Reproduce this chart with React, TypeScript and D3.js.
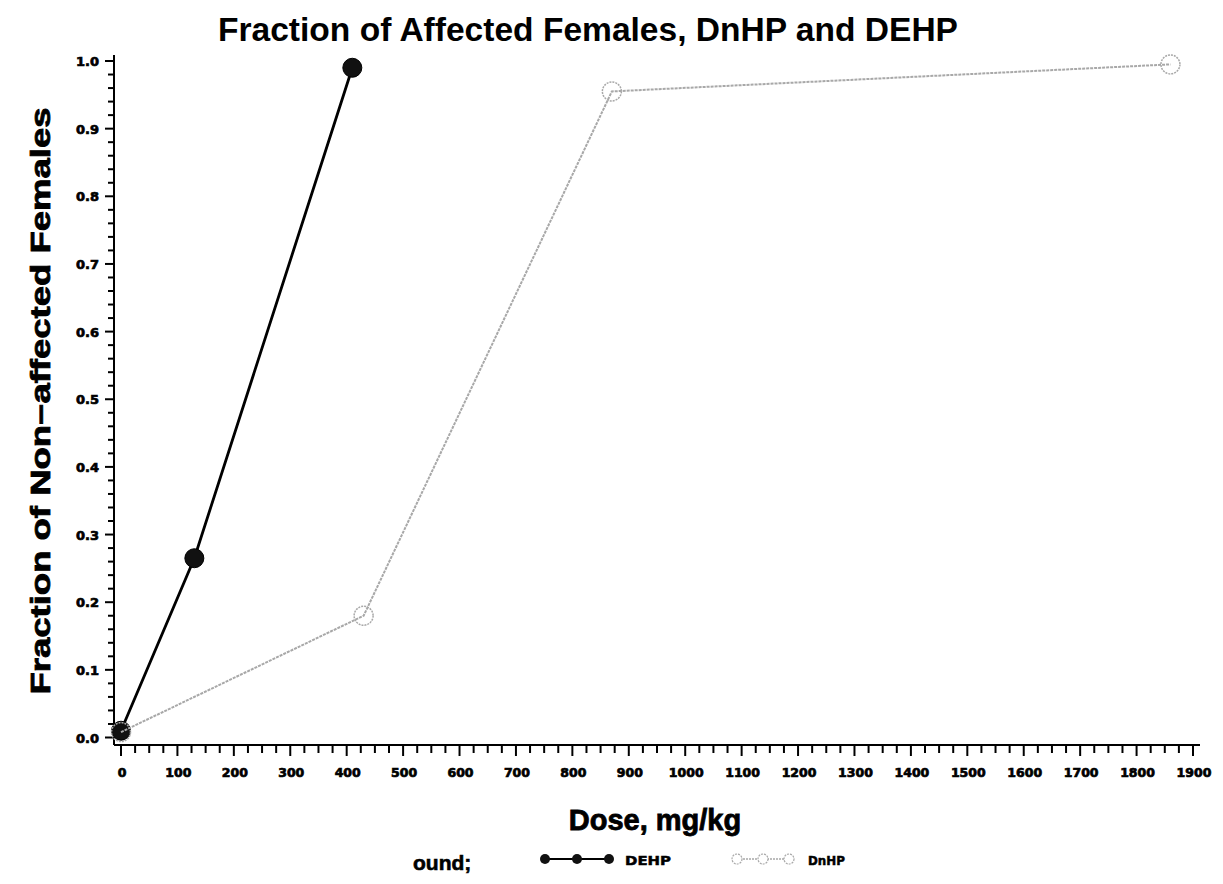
import React from "react";
import * as d3 from "d3";

const dehpDose = [0, 130, 410];
const dehpFrac = [0.01, 0.265, 0.99];
const dnhpDose = [0, 430, 870, 1860];
const dnhpFrac = [0.008, 0.18, 0.955, 0.995];
const xTickValues = [0, 100, 200, 300, 400, 500, 600, 700, 800, 900, 1000, 1100, 1200, 1300, 1400, 1500, 1600, 1700, 1800, 1900];
const yTickValues = [0.0, 0.1, 0.2, 0.3, 0.4, 0.5, 0.6, 0.7, 0.8, 0.9, 1.0];
const seriesNames = ["DEHP", "DnHP"];

const W = 1223;
const H = 884;

export default function App() {
  const x = d3.scaleLinear().domain([0, 1900]).range([121, 1193]);
  const y = d3.scaleLinear().domain([0, 1]).range([737.5, 61]);
  const line = d3.line<[number, number]>().x((d) => x(d[0])).y((d) => y(d[1]));
  const dehp: [number, number][] = dehpDose.map((d, i) => [d, dehpFrac[i]]);
  const dnhp: [number, number][] = dnhpDose.map((d, i) => [d, dnhpFrac[i]]);
  const xMinor = d3.range(0, 1901, 25);
  const yMinor = d3.range(0, 1.0001, 0.02);
  const axisY = 745;
  const axisX = 114;
  const tickFont = "'Liberation Sans', Arial, sans-serif";
  const heavyFont = "'DejaVu Sans', 'Liberation Sans', sans-serif";
  const gray = "#a8a8a8";
  return (
    <svg width={W} height={H} style={{ position: "absolute", left: 0, top: 0, background: "#fff" }}>
      <rect x={0} y={0} width={W} height={H} fill="#fff" />
      <text x={588} y={41} textAnchor="middle" fontFamily="'Liberation Sans Narrow', 'Arial Narrow', 'Liberation Sans', sans-serif" fontWeight="bold" fontSize={34} textLength={740} lengthAdjust="spacingAndGlyphs" fill="#000">
        Fraction of Affected Females, DnHP and DEHP
      </text>
      {/* Y axis */}
      <line x1={axisX} x2={axisX} y1={55} y2={axisY} stroke="#000" strokeWidth={2} />
      {yMinor.map((v, i) => {
        const major = i % 5 === 0;
        return <line key={"ym" + i} x1={axisX - (major ? 9 : 6)} x2={axisX} y1={y(v)} y2={y(v)} stroke="#000" strokeWidth={2} />;
      })}
      {yTickValues.map((v) => (
        <text key={"yl" + v} x={99} y={y(v) + 5} textAnchor="end" fontFamily={heavyFont} fontWeight="bold" fontSize={13} fill="#000" stroke="#000" strokeWidth={0.7}>
          {v.toFixed(1)}
        </text>
      ))}
      {/* X axis */}
      <line x1={axisX} x2={1200} y1={axisY} y2={axisY} stroke="#000" strokeWidth={2} />
      {xMinor.map((v, i) => {
        const major = i % 4 === 0;
        return <line key={"xm" + i} x1={x(v)} x2={x(v)} y1={axisY} y2={axisY + (major ? 11 : 8)} stroke="#000" strokeWidth={2} />;
      })}
      {xTickValues.map((v) => (
        <text key={"xl" + v} x={x(v) + 1} y={777} textAnchor="middle" fontFamily={heavyFont} fontWeight="bold" fontSize={12.5} fill="#000" stroke="#000" strokeWidth={0.7}>
          {v}
        </text>
      ))}
      {/* axis titles */}
      <text x={655} y={830} textAnchor="middle" fontFamily={tickFont} fontWeight="bold" fontSize={29} fill="#000" stroke="#000" strokeWidth={0.8}>
        Dose, mg/kg
      </text>
      <text transform={`translate(50,401) rotate(-90)`} textAnchor="middle" fontFamily={tickFont} fontWeight="bold" fontSize={27} fill="#000" stroke="#000" strokeWidth={0.8} textLength={587} lengthAdjust="spacingAndGlyphs">
        Fraction of Non−affected Females
      </text>
      {/* DEHP series */}
      <path d={line(dehp) || ""} fill="none" stroke="#000" strokeWidth={2.8} />
      {dehp.map((d, i) => (
        <circle key={"dp" + i} cx={x(d[0])} cy={y(d[1])} r={9.5} fill="#111" stroke="#000" strokeWidth={1} />
      ))}
      {/* DnHP series */}
      <path d={line(dnhp) || ""} fill="none" stroke={gray} strokeWidth={2} strokeDasharray="3,1" />
      {dnhp.map((d, i) => (
        <circle key={"np" + i} cx={x(d[0])} cy={y(d[1])} r={9.5} fill="none" stroke={gray} strokeWidth={1.5} strokeDasharray="2,1" />
      ))}
      {/* Legend */}
      <text x={413} y={870} fontFamily={tickFont} fontWeight="bold" fontSize={21} fill="#000" stroke="#000" strokeWidth={0.6}>
        ound;
      </text>
      <line x1={545} x2={609} y1={859} y2={859} stroke="#000" strokeWidth={2} />
      {[545, 577, 609].map((cx, i) => (
        <circle key={"l1" + i} cx={cx} cy={859} r={5} fill="#111" />
      ))}
      <text x={625} y={865} fontFamily={heavyFont} fontWeight="bold" fontSize={13} fill="#000" stroke="#000" strokeWidth={0.5} textLength={46} lengthAdjust="spacingAndGlyphs">
        {seriesNames[0]}
      </text>
      <line x1={737} x2={789} y1={859} y2={859} stroke={gray} strokeWidth={1.5} strokeDasharray="2,1" />
      {[737, 763, 789].map((cx, i) => (
        <circle key={"l2" + i} cx={cx} cy={859} r={5} fill="#fff" stroke={gray} strokeWidth={1.2} strokeDasharray="2,1" />
      ))}
      <text x={808} y={865} fontFamily={heavyFont} fontWeight="bold" fontSize={13} fill="#000" stroke="#000" strokeWidth={0.5} textLength={37} lengthAdjust="spacingAndGlyphs">
        {seriesNames[1]}
      </text>
    </svg>
  );
}
